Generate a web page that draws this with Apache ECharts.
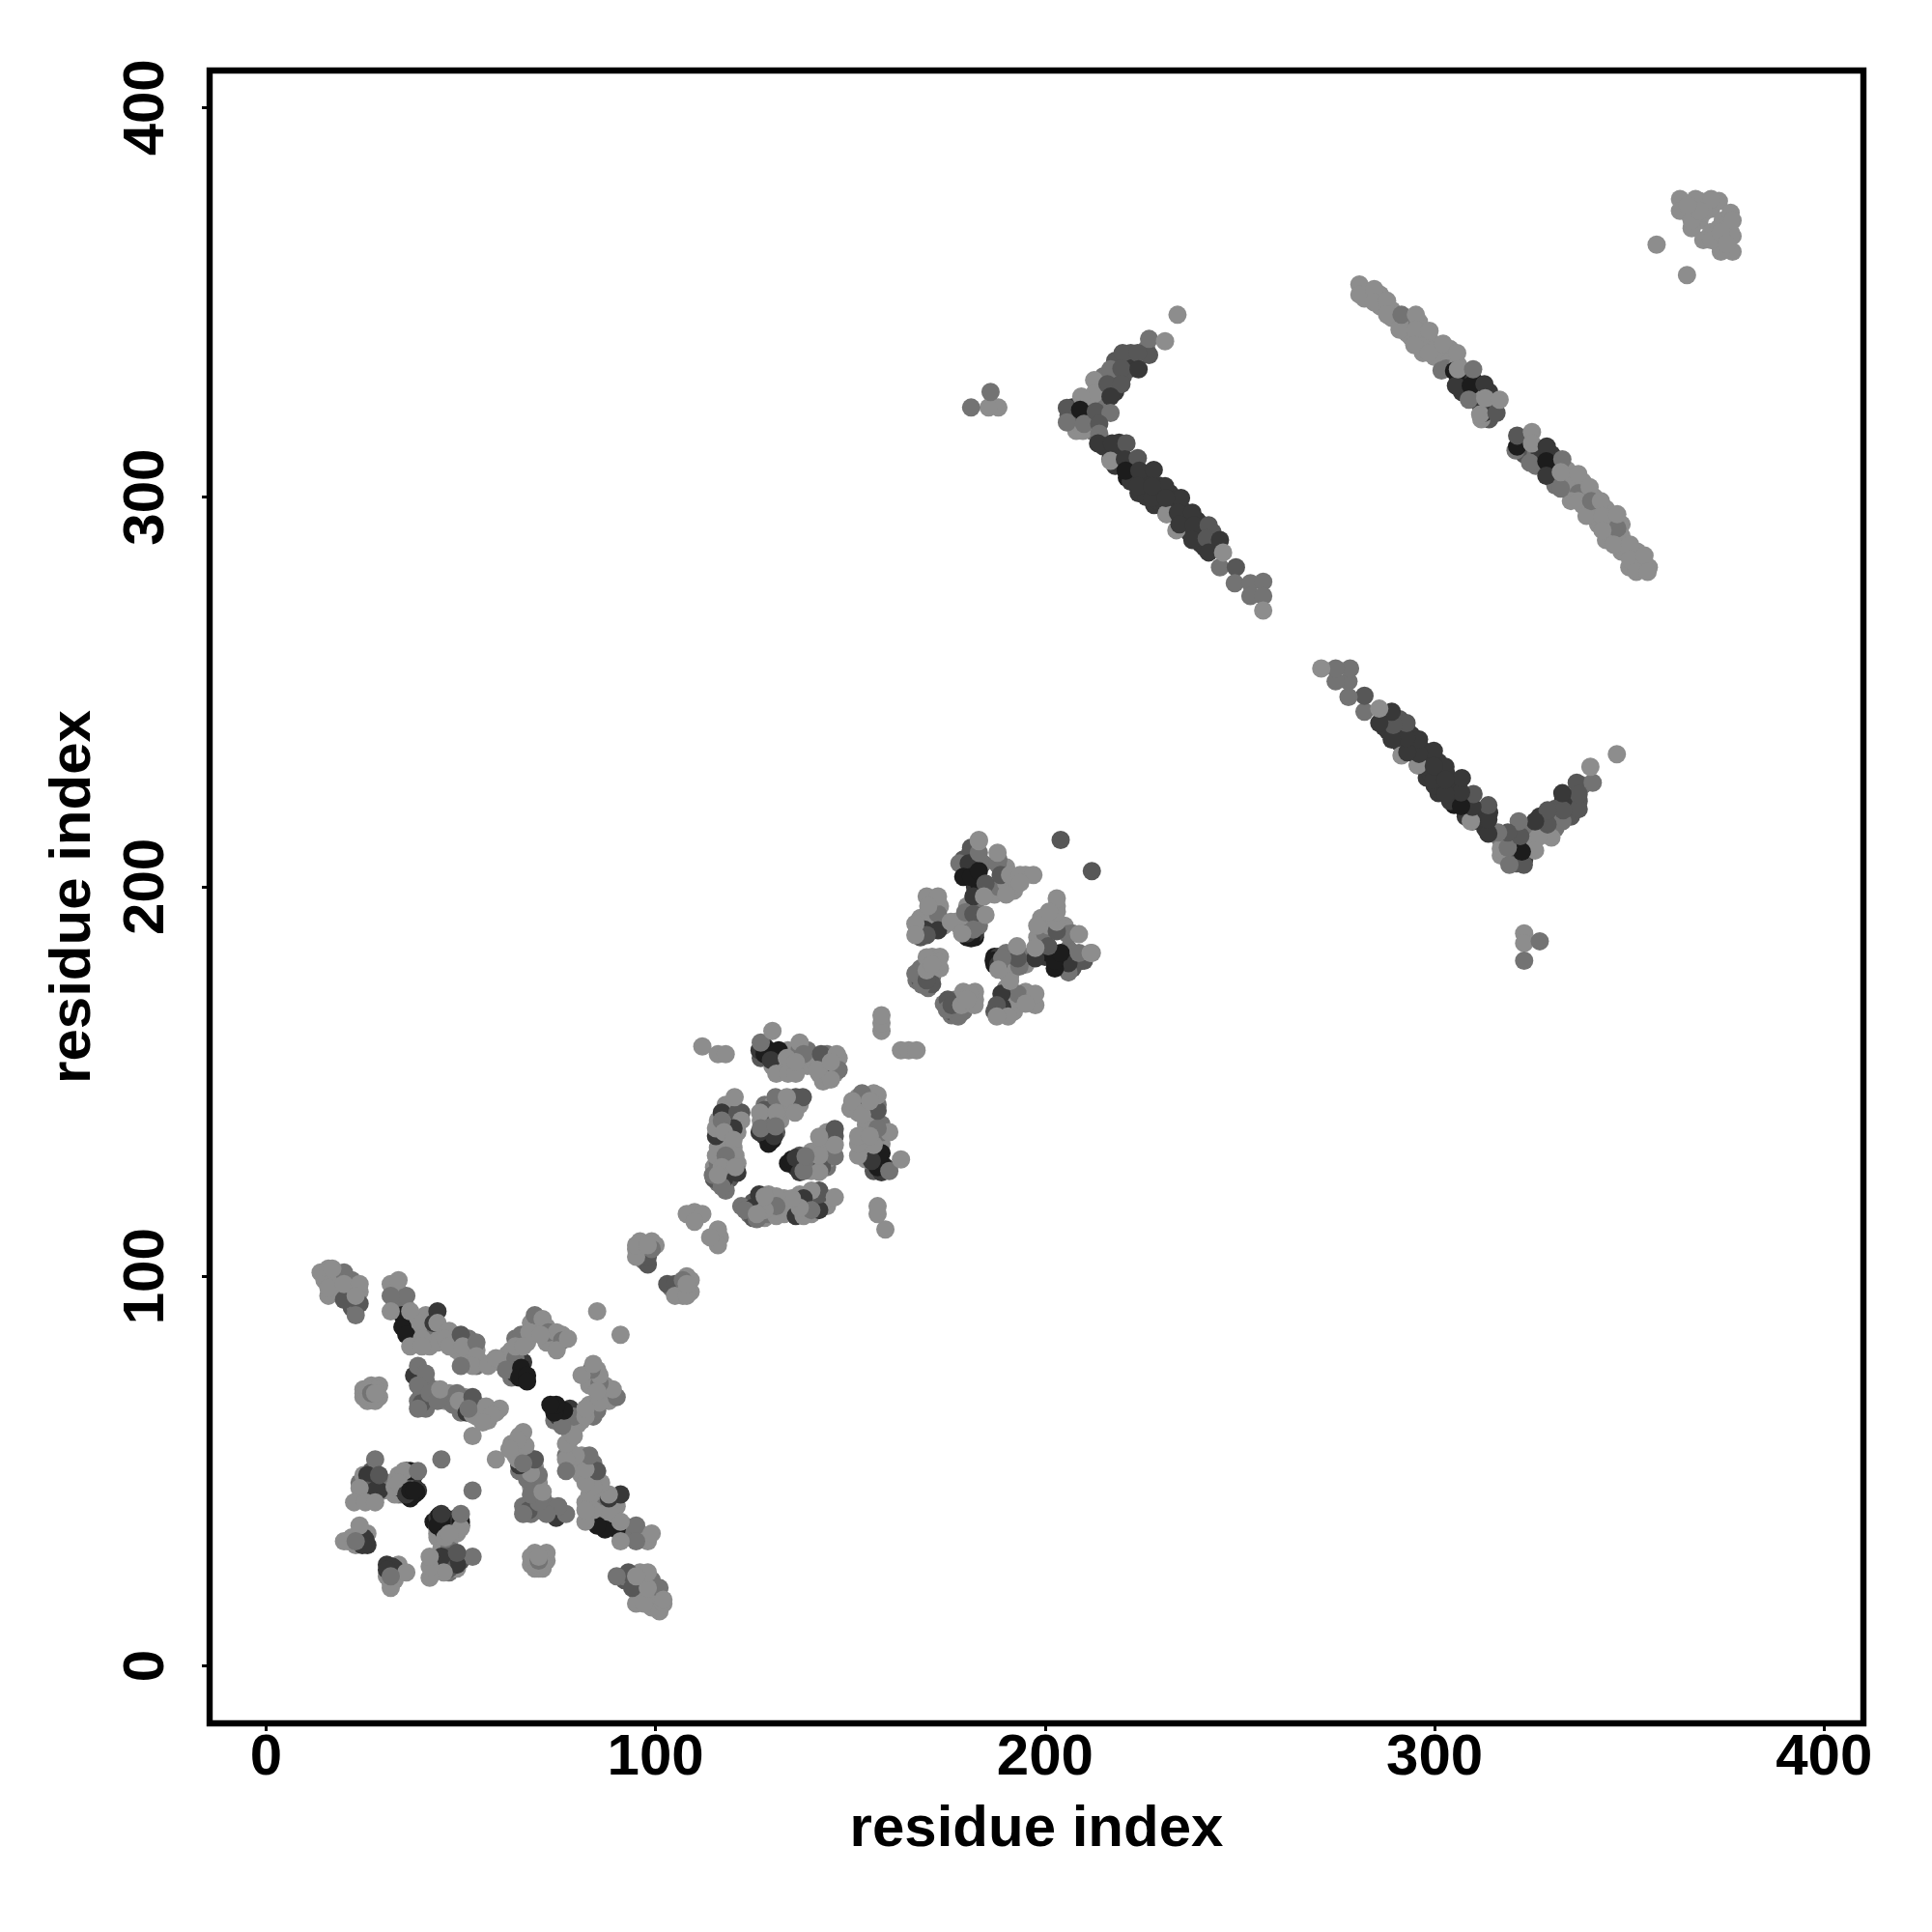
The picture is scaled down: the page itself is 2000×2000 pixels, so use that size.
<!DOCTYPE html>
<html>
<head>
<meta charset="utf-8">
<style>html,body{margin:0;padding:0;background:#fff}#c{width:2000px;height:2000px}</style>
<script src="https://cdn.jsdelivr.net/npm/echarts@6/dist/echarts.min.js"></script>
</head>
<body>
<div id="c"></div>
<script>
const tickValues = [0, 100, 200, 300, 400];
const xLabel = 'residue index';
const yLabel = 'residue index';
// grey shade index 1..5 (1 = lightest)
const shades = ['#8d8d8d', '#737373', '#575757', '#383838', '#1c1c1c'];

// Contact map is symmetric: [i, j, shade] read on the i<j side.
// Arrays named *Under hold marks mostly hidden below the visible top layer.
const domainA_armsUnder = [
[18,100,1],[15,99,1],[18,97,1],[22,96,2],[22,92,3],[22,99,2],[16,95,1],[18,99,1],[24,96,1],[23,92,2],[21,96,2],
[33,93,1],[34,96,1],[36,92,1],[36,89,4],[37,88,5],[37,86,4],[38,89,1],[39,86,1],[41,90,1],[42,85,1],[38,84,1],[42,82,1],[35,94,2],[41,87,2],[45,85,1],[44,83,1],[48,85,1],[49,83,1],[52,82,1],[52,84,2],[49,81,1],[54,81,1],[52,79,1],[54,77,2],[55,78,1],[58,78,1],[60,78,1],[62,78,1],[63,76,2],[64,77,3],[66,78,4],[63,74,2],[66,75,5],[64,75,4],[62,80,1],[63,81,1],[64,84,2],[67,83,1],[69,86,1],[70,88,2],[72,87,1],[74,83,1],[73,84,2],[76,85,1],[75,83,2],[68,88,1],[72,83,1]
];
const domainA_arms = [
[24,93,3],[23,90,2],[20,94,3],[20,101,2],[14,101,1],[16,102,1],[17,102,1],[16,97,1],[20,98,1],[24,98,1],[23,95,1],
[35,90,5],[35,87,5],[36,85,5],[36,95,2],[32,98,1],[34,99,1],[32,95,2],[32,91,1],[37,91,1],[40,88,1],[40,84,1],[37,82,1],[40,82,1],
[44,91,4],[43,88,4],[44,88,1],[47,86,1],[46,84,1],[47,82,1],[50,85,3],[50.5,82,1],[54,83,2],[54,79.5,1],[53,77,1],[50,77,2],[57,77,1],[59,79,1],
[64,79,2],[61.6,76,2],[65.5,76.5,5],[65,74,5],[67,74.5,5],[67,73,5],
[69,90,2],[71,89,1],[65.5,85,2],[67.6,85.6,1],[64,82,1],[66,82,1],[72.5,85.6,2],[74.6,85.6,1],[76,83.5,2],[74.6,81,1],[70.5,85,1],[77.5,84,1],[85,91,1]
];
const domainA_innerUnder = [
[25,71,1],[25,69,1],[26,68,1],[27,72,1],[29,72,1],[29,69,1],[25,70,1],
[39,75,2],[40,72,2],[41,73,2],[40,70,3],[41,68,3],[39,68,2],[41,66,2],[42,68,2],[43,71,2],[45,69,1],[46,68,1],[47,70,1],[47,68,2],[48,67,2],[51,69,1],[51,68,1],[52,67,3],[50,65,2],[54,67,1],[55,66,2],[56,64,2],[57,66,1],[54,64,1],[59,65,1],[57,63,1],[55,65,1]
];
const domainA_inner = [
[28,71,1],[26,69.5,1],[28,68,1],[26,71,1],[27,70,2],[28,70,1],
[38,74.5,4],[40,67.5,3],[39,66,2],[39,77,2],[41,75,2],[39,72,2],[42,70,2],[44,68,2],[44.7,71,1],
[49,70,2],[49.5,66.6,2],[49.5,68,1],[51.5,65,4],[53,69,3],[53,64.6,1],[52,66,2],[56.5,66.6,1],[60,66,1],[58,64.5,1],[55.6,62.5,1],[53,59,1]
];
const domainA_lowUnder = [
[27,47,4],[25,47,3],[27,43,1],[24,43,1],[30,45,1],[31,46,1],[32,47,1],[30,47,2],[27,50,3],[28,47,3],[36,47,5],[35,48,5],[37,47,4],[38,46,5],[37,45,5],[35,44,1],[36,50,5],[34,49,1],[38,44,4],[38,49,4],
[26,34,1],[22,33,1],[25,33,4],[26,31,4],[23,31,1],
[44,34,2],[45,35,4],[46,36,3],[43,37,5],[44,33,1],[46,33,1],[47,31,1],[47,29,2],[45,29,4],[44,27,4],[46,27,4],[44,25,1],[43,26,1],[47,26,3],[47,24,2],[49,25,1]
];
const domainA_low = [
[28,53,2],[26,49,4],[26,45,3],[28,45,4],[24,45.6,1],[22.6,42,1],[25.5,42,1],[28,42,1],[29,49,3],
[34.6,45.6,5],[36,44,5],[37,50,5],[39,45,4],[33,46,1],[35.4,50,1],[39,50,2],[34,47,1],[45,53,2],
[25,32,4],[25.5,32.4,4],[24.7,31,4],[24,36,1],[20,32,1],[21,32,1],[23,32,2],
[44.5,38.6,5],[44,36,4],[45,37,5],[45,38,5]
];
const domainA_bridge = [
[97,106,1],[97,104,2],[100,108,1],
[98,103,3],[96,107,1],[96,109,1],[99,109,1],[98,105,3],[99,107,2],[95,107,1],[95,105,1],[95,108,1],[98,108,1],
[110,116.5,1],[108,116,1],[112,116,1],[110,114,1]
];
const domainB_under = [
[128,159,4],[129,158,5],[127,156,3],[130,157,5],[132,156,2],[133,154,1],[130,154,1],[132,153,1],[135,153,1],[137,154,1],[138,155,1],[139,154,1],[134,158,1],[137,158,2],[139,158,2],[141,155,1],[143,154,2],[144,157,2],[146,155,1],[146,152,1],[144,152,4],[143,150,1],[145,153,2],[147,156,1],
[118,144,1],[120,144,1],[118,141,4],[120,140,3],[122,142,3],[116,140,1],[117,138,4],[118,136,1],[119,139,1],[121,137,1],[119,133,1],[116,133,1],[120,133,1],[117,131,1],[121,129,1],[118,129,2],[115,128,1],[116,124,2],[119,125,3],[118,122,2],[115,125,3],[119,127,4],[116,129,2],
[128,144,2],[130,144,1],[132,144,1],[134,144,1],[127,140,1],[129,141,2],[128,139,2],[128,136,4],[129,137,4],[131,137,3],[131,140,2],[129,134,5],[132,140,1],[133,143,1],[137,144,1],[136,146,3]
];
const domainB = [
[112,159,1],[116,157,1],[118,157,1],
[126.7,158,4],[128,157,5],[131.6,158,5],[129.6,155.5,4],[127,160,2],[130,163,1],[133.7,156,1],[131,152,1],[134,152,1],[136,152,1],[137,160,1],[138,157,2],[136,155,1],
[145,151,4],[142.5,157,3],[146.5,157,1],[142,152,1],[147,153,2],[145,150.5,1],[141.5,153,1],[145,155,1],
[117,142,4],[121,142,3],[120.3,146,1],[122,140,1],[115.5,136,4],[120,138,4],[115.5,138,1],[117,140,2],[117.6,137,1],[120,135,1],
[115.5,131,1],[120.5,131,1],[118,131,2],[114.7,126,2],[117.6,125,4],[117,123,2],[117,128,1],[121,126.6,4],[120.5,128,1],[116,126,1],
[130,135,5],[130.4,136,4],[126.7,137,4],[128,142.7,3],[137.8,146,3],[130.8,146,2],[133.7,146,1],[126.8,142,1],[131,142,1],[135.8,142,1],[127,138,2],[130.8,138.5,2],
[158,163,1],[158,165,1],[158,167,1]
];
const domainC_under = [
[180,204,5],[182,204,5],[182,200,4],[183,201,5],[179,207,3],[181,210,3],[184,206,2],[186,199,1],[187,198,1],[189,201,1],[188,200,2],[190,205,1],[188,207,2],[192,199,1],[195,203,1],[190,201,1],
[171,194,1],[173,195,1],[171,192,2],[172,190,4],[170,190,2],[168,189,4],[168,187,3],[168,192,1],[173,191,1],[174,190,1],[177,191,1],[179,190,1],[180,191,2],[180,187,5],[182,187,5],[182,188,4],[183,190,2],[180,195,1],[182,195,2],[178,190,1],[171,197,1],[170,193,1],
[168,179,2],[167,176,2],[170,174,2],[171,177,2],[171,182,1],[173,182,1],[173,179,1],[168,176,3],[171,175,3]
];
const domainC = [
[204,212,3],[183,212,1],
[180.8,208.7,3],[178,206,2],[180.4,206,4],[179,202.5,5],[181,202.5,5],[183,204,5],[183,208.7,2],[183,211.7,1],[184.7,200.8,3],[181.6,197.5,4],[184.3,197.5,1],
[187.8,205.8,2],[187.8,208.7,1],[188.6,203,3],[190,198,1],[191,203,1],[193.6,203,1],[197,203,1],[193.6,201,1],
[172.5,193,2],[169.6,197.5,1],[172.5,197.5,1],[170,195,1],[169,189,4],[172.5,188.8,4],[169.6,187.6,3],[166.7,190.5,1],[166.7,187.6,1],[175.8,191,1],
[181,186.8,5],[179.5,193.4,2],[180,188,4],[181.6,193,3],[181.6,189,2],[178.7,188,1],[184.7,192.8,1],
[166.7,177.7,2],[168.4,174.8,2],[169.6,176,3],[169.6,178.5,1],[169.6,181.9,1],[172.5,180.6,1],[171,180,1]
];
const chevronUpperUnder = [
[226,338,2],[222,337,3],[221,335,3],[218,335,3],[222,333,4],[220,331,3],[217,330,3],[215,331,2],[214,328,1],[218,327,4],[215,327,3],[211,325,1],[213,324,1],[207,323,4],[208,321,5],[207,319,3],[211,321,5],[212,320,3],[211,319,2],[210,320,4],[208,317,1],[215,323,2],[212,317,2],[206,321,3]
];
const chevronUpper = [
[226.7,336.5,3],[226.7,340.6,2],[234,346.8,1],[230.8,340,1],[219.9,337,3],[223.8,337,3],[216.8,332.8,2],[219.6,333,3],[224,332.8,4],
[212.6,330,1],[212.6,326.5,1],[216,329,3],[219.6,329,3],[216.8,325.8,4],[209.3,325.8,1],
[205.6,322.9,3],[205.6,319.2,2],[209.7,317,1],[209,322.4,5],[210,318.8,2],[213,322,3],[216.8,321.6,2],[213.9,318.8,3],[213.9,316.3,2]
];
const chevronLowerUnder = [
[215,313,4],[219,314,4],[219,311,4],[218,308,4],[219,309,4],[222,309,4],[222,306,5],[221,305,5],[222,304,4],[226,306,4],[225,304,4],[226,303,4],[229,303,4],[224,301,4],[226,300,4],[228,298,4],[229,301,4],[229,299,4],[232,301,4],[233,298,4],[231,298,4],[233,296,4],[235,297,4],[236,295,4],[236,293,4],[239,294,4],[237,291,4],[239,290,4],[240,293,4],[240,288,4],[243,291,3],[243,288,4],[244,287,4],[241,287,4]
];
const chevronLower = [
[213.6,313.8,4],[217.2,313.8,4],[220.9,313.8,3],[216.8,309.7,4],[216.8,309.3,1],[220.5,309.7,4],[223.8,310,3],[220.7,306.8,5],[224.2,306.8,4],[227.9,307,4],
[231.2,295.7,4],[231.2,295.7,1],[233.7,291.5,1],[223.8,302.8,4],[227.5,299.8,4],[230.8,302.8,4],[227.5,302.8,4],[234.9,299.8,4],[231,299.8,4],[234.1,296,4],[237.8,296,4],
[234.5,293,4],[238.2,292.8,4],[242,292.8,3],[237.8,289,4],[241.5,289.4,3],[244.9,289,4],[242,285.8,4],[244.9,282,2],[245.7,285.8,1],
[249,282,3],[248.7,277.9,2],[252.7,277.9,2],[256,278.3,2],[252.7,274.6,2],[256,274.6,2],[256,270.9,1]
];
const loneContacts = [
[188,323,1],[185.5,323,1],[186,327,2],[181,323,2],
[357,364.8,1],
[366,375,1],[368,376,1],[370,375,1],[365,373,1],[371,374,1],[367,372,1],[368,371,1],[366,369,1],
[364,374,1],[369,375,1],[367,374,1],[369,373,1],[373,376,1],
[363,376.5,1],[363,373.5,1],[367,376.5,1],[371,376.5,1],[366,371,1],[368,373.5,1],[365,375,1]
];
// Anti-parallel band, crosses the diagonal: read whole, not mirrored
const sheetBandUnder = [
[282,353,1],[282,351,1],[286,352,1],[286,349,1],[289,348,1],[289,346,1],[293,345,2],[293,342,1],[291,345,1],[296,345,1],[296,341,1],[294,341,1],[297,340,1],[299,340,1],[297,337,1],[300,338,1],[302,336,1],[300,336,1],[304,338,1],[304,335,1],[303,333,2],[306,334,1],[306,330,4],[307,331,5],[308,330,5],[310,330,4],[311,329,5],[307,327,4],[310,326,2],[312,326,1],[314,327,4],[312,323,4],[314,322,3],[315,323,1],[314,320,3],[312,320,1],
[322,313,5],[323,314,3],[323,311,3],[323,315,1],[326,311,2],[326,308,2],[327,311,4],[330,311,4],[330,307,5],[330,305,4],[331,303,2],[334,307,1],[334,304,1],[335,302,1],[338,304,1],[337,301,2],[338,298,1],[335,299,1],[341,300,1],[341,297,2],[340,296,1],[344,297,1],[345,294,1],[342,293,1],[345,291,1],[348,293,1],[348,290,1],[348,287,1],[344,289,1],[352,286,1],[348,286,1],[352,283,1],[350,282,1],[353,282,1],[355,282,1]
];
const sheetBand = [
[280.7,354.6,1],[280.7,352,1],[284.5,353.4,1],[284.5,350,1],[287.8,350.4,1],[287.8,346.8,1],[291,343,1],[291.5,346.8,2],[295.2,346.8,1],[295.2,343,1],[294.8,339,1],
[298.5,337,1],[298.7,342.7,1],[302.2,339.4,1],[301.8,332.5,2],[305.8,337,1],
[305,332.4,5],[305.5,328.6,4],[306,332.8,1],[309.3,328.6,5],[309.9,332.8,2],[312.8,329,4],[308.8,325,2],[312.6,321.6,4],[311.7,321.2,1],[315.9,321.6,3],[313,325.4,1],[316.7,325,1],
[320.8,312,2],[321.2,313,5],[321.2,315.8,3],[325,316.7,1],[325,313.8,1],[324.5,308.8,2],[328.8,313,4],[328.7,309.2,5],[328.7,305.5,4],[332.4,302.2,2],[332.8,309.7,2],[332.4,306.4,1],
[336.9,305.9,1],[339.8,302.6,1],[336.9,299,1],[339,295.2,1],[340.2,299,2],[342.7,299,1],[346.9,292,2],[343.1,295.2,1],[346.9,295.6,1],[343.1,291.5,1],[346,287.8,1],[350.2,287.8,1],[350.2,284,1],[353.9,285,1],[351.8,280.8,1],[354.7,280.8,1]
];

const mirrored = [domainA_armsUnder, domainA_arms, domainA_innerUnder, domainA_inner, domainA_lowUnder, domainA_low, domainA_bridge, domainB_under, domainB, domainC_under, domainC, chevronUpperUnder, chevronUpper, chevronLowerUnder, chevronLower, loneContacts];
const points = [];
mirrored.forEach(group => {
  group.forEach(p => points.push(p));
  group.forEach(p => points.push([p[1], p[0], p[2]]));
});
sheetBandUnder.forEach(p => points.push(p));
sheetBand.forEach(p => points.push(p));

const chart = echarts.init(document.getElementById('c'), null, {renderer: 'canvas', width: 2000, height: 2000});
const font = 'Liberation Sans';
chart.setOption({
  animation: false,
  backgroundColor: '#fff',
  grid: {left: 217, top: 73, width: 1712, height: 1711, show: true, borderColor: '#000', borderWidth: 6.4, backgroundColor: 'transparent'},
  xAxis: {
    type: 'value', min: -14.5, max: 410.1, name: xLabel, nameLocation: 'middle', nameGap: 80,
    nameTextStyle: {fontFamily: font, fontWeight: 'bold', fontSize: 60, color: '#000'},
    splitLine: {show: false}, axisLine: {show: false, onZero: false},
    axisTick: {show: true, length: 8, lineStyle: {color: '#000', width: 3}, customValues: tickValues},
    axisLabel: {fontFamily: font, fontWeight: 'bold', fontSize: 60, color: '#000', margin: 6, customValues: tickValues, hideOverlap: false, showMinLabel: true, showMaxLabel: true}
  },
  yAxis: {
    type: 'value', min: -14.75, max: 409.5, name: yLabel, nameLocation: 'middle', nameGap: 111, nameRotate: 90,
    nameTextStyle: {fontFamily: font, fontWeight: 'bold', fontSize: 60, color: '#000'},
    splitLine: {show: false}, axisLine: {show: false, onZero: false},
    axisTick: {show: true, length: 8, lineStyle: {color: '#000', width: 3}, customValues: tickValues},
    axisLabel: {fontFamily: font, fontWeight: 'bold', fontSize: 60, color: '#000', rotate: 90, margin: 65, customValues: tickValues, hideOverlap: false, verticalAlign: 'middle', align: 'center'}
  },
  series: [{
    type: 'scatter', data: points, symbol: 'circle', symbolSize: 19, silent: true, clip: false,
    encode: {x: 0, y: 1},
    itemStyle: {opacity: 1, color: p => shades[p.value[2] - 1]}
  }]
});
</script>
</body>
</html>
